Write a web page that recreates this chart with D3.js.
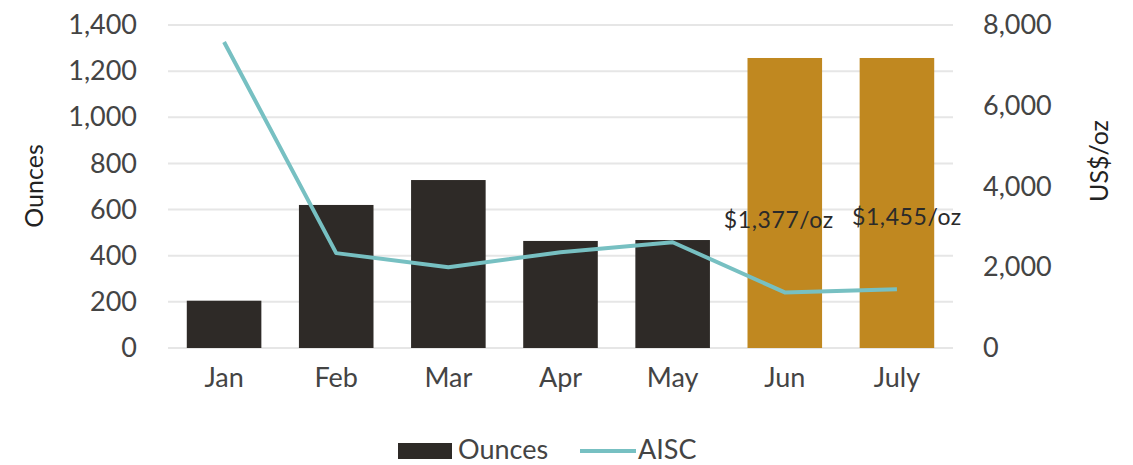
<!DOCTYPE html>
<html><head><meta charset="utf-8">
<script src="https://cdn.jsdelivr.net/npm/d3@7/dist/d3.min.js"></script>
<style>body{margin:0;background:#fff}svg{display:block}</style>
</head><body>
<svg id="c" width="1133" height="465"></svg>
<script>
const months = ["Jan","Feb","Mar","Apr","May","Jun","July"];
const ounces = [205, 620, 728, 464, 468, 1257, 1257];
const aisc = [7580, 2350, 2000, 2370, 2620, 1377, 1455];
const barColors = ["#2e2a27","#2e2a27","#2e2a27","#2e2a27","#2e2a27","#c08820","#c08820"];
const leftTicks = [0,200,400,600,800,1000,1200,1400];
const rightTicks = [0,2000,4000,6000,8000];
const annotations = [{i:5, text:"$1,377/oz"},{i:6, text:"$1,455/oz"}];
const annotationDx = [-6, 10];

const svg = d3.select("#c");
const L = 168, R = 953, T = 25, B = 348;
const font = "Lato, 'Open Sans', sans-serif";
const x = d3.scaleBand().domain(months).range([L,R]).paddingInner(0.335).paddingOuter(0.1675);
const yL = d3.scaleLinear().domain([0,1400]).range([B,T]);
const yR = d3.scaleLinear().domain([0,8000]).range([B,T]);

// gridlines
svg.append("g").selectAll("line").data(leftTicks).join("line")
  .attr("x1",L).attr("x2",R).attr("y1",d=>yL(d)).attr("y2",d=>yL(d))
  .attr("stroke","#e6e6e6").attr("stroke-width",2);

// left axis
const ga = svg.append("g").attr("transform",`translate(${L},0)`)
  .call(d3.axisLeft(yL).tickValues(leftTicks).tickFormat(d3.format(",")).tickSize(0).tickPadding(31));
ga.select(".domain").remove();
ga.selectAll("text").attr("font-family",font).attr("font-size",27).attr("fill","#444");

const gr = svg.append("g").attr("transform",`translate(${R},0)`)
  .call(d3.axisRight(yR).tickValues(rightTicks).tickFormat(d3.format(",")).tickSize(0).tickPadding(30));
gr.select(".domain").remove();
gr.selectAll("text").attr("font-family",font).attr("font-size",27).attr("fill","#444");

const gx = svg.append("g").attr("transform",`translate(0,${B})`)
  .call(d3.axisBottom(x).tickSize(0).tickPadding(20));
gx.select(".domain").remove();
gx.selectAll("text").attr("font-family",font).attr("font-size",27).attr("fill","#444");

// bars
svg.append("g").selectAll("rect").data(months).join("rect")
  .attr("x",d=>x(d)).attr("width",x.bandwidth())
  .attr("y",(d,i)=>yL(ounces[i])).attr("height",(d,i)=>B-yL(ounces[i]))
  .attr("fill",(d,i)=>barColors[i]);

// line
const line = d3.line().x((d,i)=>x(months[i])+x.bandwidth()/2).y(d=>yR(d));
svg.append("path").datum(aisc).attr("d",line).attr("fill","none")
  .attr("stroke","#77c0c2").attr("stroke-width",4).attr("stroke-linejoin","round");

// annotations
svg.append("g").selectAll("text").data(annotations).join("text")
  .attr("x",(d,k)=>x(months[d.i])+x.bandwidth()/2+annotationDx[k]).attr("y",d=>yR(aisc[d.i])-64)
  .attr("text-anchor","middle").attr("font-family",font).attr("font-size",23)
  .attr("letter-spacing",0.6).attr("fill","#2a2a2a").text(d=>d.text);

// axis titles
svg.append("text").attr("transform",`translate(43,186) rotate(-90)`)
  .attr("text-anchor","middle").attr("font-family",font).attr("font-size",25).attr("fill","#222").text("Ounces");
svg.append("text").attr("transform",`translate(1108,161) rotate(-90)`)
  .attr("text-anchor","middle").attr("font-family",font).attr("font-size",25).attr("fill","#222").text("US$/oz");

// legend
const lg = svg.append("g");
lg.append("rect").attr("x",398).attr("y",443).attr("width",54).attr("height",16).attr("fill","#2e2a27");
lg.append("text").attr("x",458).attr("y",459).attr("font-family",font).attr("font-size",27).attr("fill","#444").text("Ounces");
lg.append("line").attr("x1",580).attr("x2",636).attr("y1",451).attr("y2",451).attr("stroke","#77c0c2").attr("stroke-width",4);
lg.append("text").attr("x",638).attr("y",459).attr("font-family",font).attr("font-size",27).attr("fill","#444").text("AISC");
</script>
</body></html>
